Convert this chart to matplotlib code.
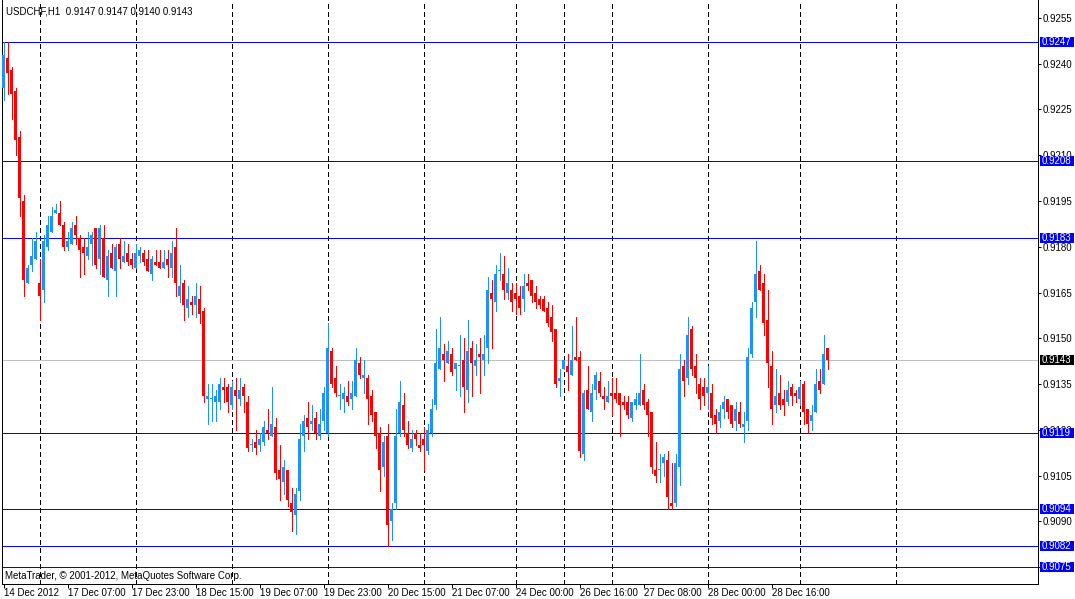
import matplotlib
matplotlib.use("Agg")
import matplotlib.pyplot as plt
from matplotlib.patches import Rectangle
from matplotlib.transforms import blended_transform_factory
import numpy as np

plt.rcParams['font.family'] = ['Liberation Sans', 'DejaVu Sans']

# ---------------- data (USDCHF, H1) ----------------
chart_title = "USDCHF,H1  0.9147 0.9147 0.9140 0.9143"
copyright_text = "MetaTrader, \u00a9 2001-2012, MetaQuotes Software Corp."

opens = [
    0.9232, 0.9242, 0.9238, 0.9231, 0.9216, 0.9195, 0.9168, 0.9174, 0.9176, 0.9168,
    0.9166, 0.9180, 0.9185, 0.9191, 0.9191, 0.9187, 0.9180, 0.9181, 0.9187, 0.9183,
    0.9180, 0.9177, 0.9181, 0.9186, 0.9176, 0.9183, 0.9169, 0.9178, 0.9172, 0.9181,
    0.9175, 0.9178, 0.9176, 0.9173, 0.9177, 0.9178, 0.9176, 0.9171, 0.9175, 0.9175,
    0.9173, 0.9176, 0.9173, 0.9180, 0.9164, 0.9168, 0.9160, 0.9162, 0.9161, 0.9163,
    0.9159, 0.9130, 0.9130, 0.9129, 0.9129, 0.9134, 0.9134, 0.9128, 0.9133, 0.9130,
    0.9134, 0.9129, 0.9115, 0.9116, 0.9115, 0.9116, 0.9120, 0.9118, 0.9121, 0.9107,
    0.9103, 0.9107, 0.9096, 0.9092, 0.9100, 0.9118, 0.9124, 0.9122, 0.9124, 0.9118,
    0.9123, 0.9119, 0.9146, 0.9137, 0.9131, 0.9130, 0.9131, 0.9130, 0.9131, 0.9142,
    0.9137, 0.9137, 0.9131, 0.9126, 0.9119, 0.9108, 0.9118, 0.9090, 0.9096, 0.9119,
    0.9128, 0.9119, 0.9114, 0.9119, 0.9115, 0.9117, 0.9113, 0.9119, 0.9128, 0.9140,
    0.9145, 0.9142, 0.9145, 0.9140, 0.9141, 0.9143, 0.9133, 0.9147, 0.9141, 0.9145,
    0.9143, 0.9147, 0.9165, 0.9162, 0.9172, 0.9171, 0.9165, 0.9166, 0.9165, 0.9164,
    0.9163, 0.9168, 0.9169, 0.9165, 0.9163, 0.9163, 0.9160, 0.9157, 0.9153, 0.9136,
    0.9140, 0.9141, 0.9138, 0.9144, 0.9144, 0.9112, 0.9133, 0.9126, 0.9133, 0.9136,
    0.9131, 0.9129, 0.9132, 0.9132, 0.9132, 0.9129, 0.9129, 0.9124, 0.9128, 0.9128,
    0.9133, 0.9129, 0.9126, 0.9107, 0.9107, 0.9109, 0.9110, 0.9096, 0.9096, 0.9108,
    0.9141, 0.9137, 0.9153, 0.9141, 0.9135, 0.9134, 0.9132, 0.9132, 0.9125, 0.9123,
    0.9127, 0.9130, 0.9128, 0.9123, 0.9126, 0.9121, 0.9123, 0.9145, 0.9162, 0.9172,
    0.9168, 0.9156, 0.9141, 0.9128, 0.9132, 0.9130, 0.9129, 0.9134, 0.9132, 0.9130,
    0.9135, 0.9127, 0.9123, 0.9126, 0.9136, 0.9135, 0.9147,
]

highs = [
    0.9247, 0.9247, 0.9239, 0.9232, 0.9218, 0.9197, 0.9174, 0.9183, 0.9185, 0.9176,
    0.9184, 0.9190, 0.9193, 0.9194, 0.9195, 0.9188, 0.9185, 0.9188, 0.9190, 0.9184,
    0.9183, 0.9185, 0.9185, 0.9186, 0.9187, 0.9187, 0.9179, 0.9181, 0.9181, 0.9183,
    0.9182, 0.9181, 0.9178, 0.9181, 0.9180, 0.9179, 0.9179, 0.9177, 0.9179, 0.9179,
    0.9179, 0.9179, 0.9182, 0.9186, 0.9174, 0.9169, 0.9167, 0.9164, 0.9168, 0.9167,
    0.9160, 0.9135, 0.9135, 0.9133, 0.9137, 0.9137, 0.9135, 0.9136, 0.9137, 0.9137,
    0.9135, 0.9131, 0.9117, 0.9120, 0.9119, 0.9123, 0.9127, 0.9134, 0.9124, 0.9115,
    0.9110, 0.9107, 0.9101, 0.9101, 0.9122, 0.9125, 0.9129, 0.9128, 0.9126, 0.9127,
    0.9134, 0.9155, 0.9147, 0.9141, 0.9135, 0.9134, 0.9136, 0.9136, 0.9147, 0.9144,
    0.9143, 0.9138, 0.9133, 0.9126, 0.9121, 0.9118, 0.9122, 0.9096, 0.9127, 0.9136,
    0.9132, 0.9123, 0.9120, 0.9120, 0.9119, 0.9121, 0.9122, 0.9130, 0.9153, 0.9157,
    0.9148, 0.9149, 0.9147, 0.9142, 0.9151, 0.9150, 0.9156, 0.9149, 0.9148, 0.9150,
    0.9151, 0.9170, 0.9169, 0.9174, 0.9178, 0.9177, 0.9173, 0.9168, 0.9168, 0.9167,
    0.9171, 0.9171, 0.9169, 0.9167, 0.9164, 0.9164, 0.9162, 0.9161, 0.9153, 0.9140,
    0.9143, 0.9145, 0.9154, 0.9157, 0.9146, 0.9133, 0.9141, 0.9135, 0.9139, 0.9139,
    0.9134, 0.9136, 0.9137, 0.9137, 0.9132, 0.9131, 0.9131, 0.9129, 0.9132, 0.9145,
    0.9135, 0.9130, 0.9126, 0.9116, 0.9112, 0.9112, 0.9113, 0.9109, 0.9112, 0.9145,
    0.9143, 0.9157, 0.9154, 0.9145, 0.9137, 0.9137, 0.9141, 0.9135, 0.9127, 0.9128,
    0.9131, 0.9130, 0.9128, 0.9129, 0.9129, 0.9126, 0.9147, 0.9162, 0.9182, 0.9174,
    0.9171, 0.9166, 0.9146, 0.9140, 0.9138, 0.9133, 0.9136, 0.9135, 0.9133, 0.9136,
    0.9136, 0.9127, 0.9128, 0.9140, 0.9140, 0.9151, 0.9147,
]

lows = [
    0.9228, 0.9230, 0.9222, 0.9210, 0.9190, 0.9164, 0.9168, 0.9172, 0.9176, 0.9156,
    0.9162, 0.9179, 0.9185, 0.9191, 0.9187, 0.9179, 0.9179, 0.9181, 0.9181, 0.9170,
    0.9171, 0.9176, 0.9174, 0.9173, 0.9171, 0.9170, 0.9164, 0.9173, 0.9164, 0.9173,
    0.9175, 0.9174, 0.9173, 0.9173, 0.9175, 0.9174, 0.9172, 0.9169, 0.9174, 0.9173,
    0.9173, 0.9170, 0.9170, 0.9164, 0.9162, 0.9156, 0.9157, 0.9158, 0.9157, 0.9155,
    0.9129, 0.9122, 0.9123, 0.9123, 0.9127, 0.9129, 0.9126, 0.9127, 0.9120, 0.9128,
    0.9126, 0.9113, 0.9113, 0.9112, 0.9113, 0.9115, 0.9117, 0.9118, 0.9104, 0.9097,
    0.9099, 0.9095, 0.9087, 0.9086, 0.9097, 0.9113, 0.9117, 0.9120, 0.9117, 0.9117,
    0.9120, 0.9118, 0.9134, 0.9131, 0.9127, 0.9126, 0.9128, 0.9127, 0.9131, 0.9137,
    0.9132, 0.9122, 0.9123, 0.9114, 0.9100, 0.9105, 0.9082, 0.9084, 0.9094, 0.9118,
    0.9118, 0.9114, 0.9113, 0.9115, 0.9113, 0.9107, 0.9112, 0.9118, 0.9127, 0.9140,
    0.9136, 0.9142, 0.9138, 0.9133, 0.9131, 0.9126, 0.9129, 0.9131, 0.9138, 0.9132,
    0.9138, 0.9142, 0.9147, 0.9159, 0.9169, 0.9163, 0.9163, 0.9159, 0.9158, 0.9158,
    0.9159, 0.9166, 0.9162, 0.9160, 0.9160, 0.9159, 0.9154, 0.9149, 0.9134, 0.9131,
    0.9140, 0.9133, 0.9138, 0.9143, 0.9111, 0.9110, 0.9127, 0.9123, 0.9130, 0.9131,
    0.9127, 0.9129, 0.9125, 0.9129, 0.9118, 0.9127, 0.9124, 0.9123, 0.9127, 0.9128,
    0.9127, 0.9118, 0.9106, 0.9103, 0.9103, 0.9105, 0.9094, 0.9094, 0.9095, 0.9102,
    0.9131, 0.9135, 0.9138, 0.9132, 0.9127, 0.9128, 0.9127, 0.9122, 0.9119, 0.9121,
    0.9124, 0.9124, 0.9121, 0.9120, 0.9121, 0.9116, 0.9120, 0.9144, 0.9157, 0.9166,
    0.9151, 0.9134, 0.9122, 0.9126, 0.9127, 0.9125, 0.9128, 0.9128, 0.9129, 0.9128,
    0.9122, 0.9119, 0.9120, 0.9126, 0.9132, 0.9135, 0.9140,
]

closes = [
    0.9243, 0.9237, 0.9230, 0.9215, 0.9196, 0.9169, 0.9173, 0.9177, 0.9182, 0.9164,
    0.9182, 0.9187, 0.9190, 0.9192, 0.9187, 0.9180, 0.9182, 0.9186, 0.9184, 0.9179,
    0.9178, 0.9180, 0.9184, 0.9174, 0.9186, 0.9170, 0.9177, 0.9173, 0.9180, 0.9176,
    0.9177, 0.9175, 0.9174, 0.9178, 0.9179, 0.9175, 0.9172, 0.9176, 0.9174, 0.9173,
    0.9175, 0.9174, 0.9178, 0.9168, 0.9167, 0.9161, 0.9163, 0.9161, 0.9164, 0.9158,
    0.9131, 0.9131, 0.9130, 0.9131, 0.9135, 0.9133, 0.9129, 0.9134, 0.9131, 0.9133,
    0.9131, 0.9114, 0.9115, 0.9114, 0.9117, 0.9121, 0.9119, 0.9122, 0.9106, 0.9104,
    0.9108, 0.9097, 0.9093, 0.9099, 0.9117, 0.9123, 0.9121, 0.9123, 0.9119, 0.9122,
    0.9132, 0.9147, 0.9135, 0.9132, 0.9131, 0.9132, 0.9129, 0.9132, 0.9143, 0.9138,
    0.9138, 0.9130, 0.9125, 0.9118, 0.9107, 0.9116, 0.9089, 0.9094, 0.9118, 0.9129,
    0.9120, 0.9115, 0.9117, 0.9117, 0.9114, 0.9115, 0.9120, 0.9127, 0.9142, 0.9147,
    0.9143, 0.9146, 0.9139, 0.9142, 0.9141, 0.9134, 0.9146, 0.9142, 0.9143, 0.9144,
    0.9145, 0.9166, 0.9163, 0.9171, 0.9172, 0.9166, 0.9168, 0.9162, 0.9163, 0.9160,
    0.9167, 0.9167, 0.9164, 0.9162, 0.9161, 0.9159, 0.9155, 0.9152, 0.9135, 0.9137,
    0.9143, 0.9139, 0.9143, 0.9143, 0.9113, 0.9132, 0.9127, 0.9132, 0.9138, 0.9132,
    0.9130, 0.9131, 0.9131, 0.9130, 0.9128, 0.9128, 0.9125, 0.9129, 0.9130, 0.9132,
    0.9128, 0.9125, 0.9108, 0.9105, 0.9107, 0.9111, 0.9098, 0.9095, 0.9109, 0.9140,
    0.9136, 0.9151, 0.9140, 0.9137, 0.9130, 0.9131, 0.9134, 0.9124, 0.9122, 0.9126,
    0.9129, 0.9126, 0.9122, 0.9127, 0.9122, 0.9122, 0.9144, 0.9160, 0.9171, 0.9166,
    0.9155, 0.9142, 0.9127, 0.9131, 0.9128, 0.9128, 0.9133, 0.9131, 0.9131, 0.9134,
    0.9126, 0.9122, 0.9125, 0.9135, 0.9133, 0.9145, 0.9143,
]

level_lines = [0.9247, 0.9208, 0.9183, 0.9119, 0.9094, 0.9082, 0.9075]
bid_price = 0.9143
price_ticks = [0.9255, 0.9240, 0.9225, 0.9210, 0.9195, 0.9180, 0.9165,
               0.9150, 0.9135, 0.9120, 0.9105, 0.9090, 0.9075]
time_tick_bars = [0, 16, 32, 48, 64, 80, 96, 112, 128, 144, 160, 176, 192]
time_tick_labels = ["14 Dec 2012", "17 Dec 07:00", "17 Dec 23:00", "18 Dec 15:00",
                    "19 Dec 07:00", "19 Dec 23:00", "20 Dec 15:00", "21 Dec 07:00",
                    "24 Dec 00:00", "26 Dec 16:00", "27 Dec 08:00", "28 Dec 00:00",
                    "28 Dec 16:00"]
day_separator_bars = [9, 33, 57, 81, 105, 128, 140, 152, 176, 199, 223]

# ---------------- styling ----------------
BULL = '#1E90FF'
BEAR = '#FF0000'
LEVEL = '#0000FF'
BID = '#C0C0C0'
FS = 7
PX = 0.72  # one pixel in points at 100 dpi

W, H = 1075, 599
ax_left, ax_right, ax_bottom = 2.3, 1037.8, 583.7
fig = plt.figure(figsize=(W / 100, H / 100), dpi=100, facecolor='white')
ax = fig.add_axes([ax_left / W, (H - ax_bottom) / H,
                   (ax_right - ax_left) / W, ax_bottom / H])
ax.set_facecolor('white')

ylo, yhi = 0.906961, 0.926086
ax.set_ylim(ylo, yhi)
ax.set_xlim((ax_left - 3.5) / 4, (ax_right - 3.5) / 4)
px_per_price = ax_bottom / (yhi - ylo)

# day separators
for b in day_separator_bars:
    ax.axvline(b, color='black', lw=PX, linestyle=(0, (5, 4)), zorder=1,
               antialiased=False)

# level lines
for v in level_lines:
    ax.axhline(v, color=LEVEL, lw=PX, zorder=2, antialiased=False)
ax.axhline(bid_price, color=BID, lw=PX, zorder=2, antialiased=False)

# candles
o = np.array(opens)
hi = np.array(highs)
lo = np.array(lows)
c = np.array(closes)
x = np.arange(len(o))
cols = np.where(c >= o, BULL, BEAR)
ax.vlines(x, lo, hi, colors=cols, lw=PX, zorder=3, antialiased=False)
body_bottom = np.minimum(o, c)
body_height = np.maximum(np.abs(c - o), 1.0 / px_per_price)
ax.bar(x, body_height, bottom=body_bottom, width=0.75, color=cols,
       linewidth=0, zorder=4, antialiased=False)

# axes / ticks
ax.spines['top'].set_visible(False)
for s in ['left', 'right', 'bottom']:
    ax.spines[s].set_linewidth(PX)
    ax.spines[s].set_color('black')
    ax.spines[s].set_antialiased(False)

ax.yaxis.tick_right()
ax.set_yticks(price_ticks)
ax.set_yticklabels([f"{v:.4f}" for v in price_ticks])
ax.tick_params(axis='y', direction='out', length=2.2, width=PX, pad=1.5,
               labelsize=FS, colors='black', left=False, right=True)

ax.set_xticks(time_tick_bars)
ax.set_xticklabels(time_tick_labels, ha='left')
ax.tick_params(axis='x', direction='out', length=2.9, width=PX, pad=0.5,
               labelsize=FS, colors='black')

# price label boxes on the right axis
trans = blended_transform_factory(fig.transFigure, ax.transData)
box_h = 10 / px_per_price
for v in level_lines + [bid_price]:
    fc = 'black' if v == bid_price else LEVEL
    rect = Rectangle((1040 / W, v - box_h / 2), 34 / W, box_h, transform=trans,
                     facecolor=fc, edgecolor='none', zorder=5)
    fig.add_artist(rect)
    fig.text(1042 / W, v, f"{v:.4f}", transform=trans, color='white',
             fontsize=FS, ha='left', va='center', zorder=6)

# chart texts
fig.text(6.5 / W, 1 - 14 / H, chart_title, fontsize=FS, ha='left',
         va='baseline', color='black')
fig.text(5 / W, 1 - 579 / H, copyright_text, fontsize=FS, ha='left',
         va='baseline', color='black')

fig.savefig('out.png', dpi=100, facecolor='white')
